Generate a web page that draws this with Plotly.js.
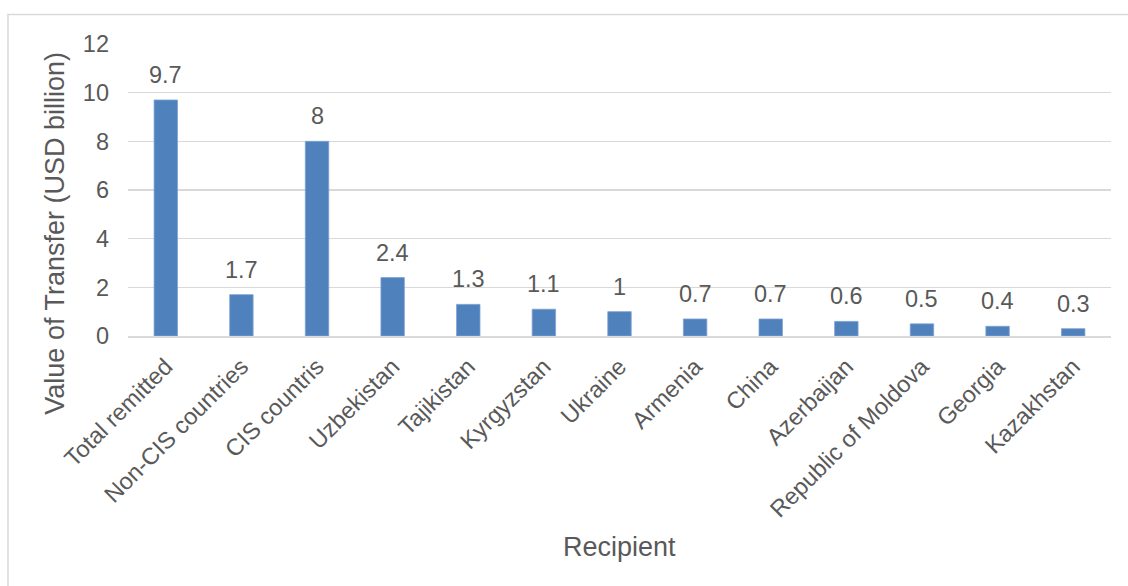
<!DOCTYPE html>
<html>
<head>
<meta charset="utf-8">
<script src="https://cdn.plot.ly/plotly-3.0.1.min.js"></script>
<style>
  html, body { margin: 0; padding: 0; background: #ffffff; }
  #chart { width: 1128px; height: 586px; }
</style>
</head>
<body>
<div id="chart"></div>
<script>
// Remittance transfers by recipient, USD billion
const recipients = [
  "Total remitted", "Non-CIS countries", "CIS countris", "Uzbekistan",
  "Tajikistan", "Kyrgyzstan", "Ukraine", "Armenia", "China",
  "Azerbaijan", "Republic of Moldova", "Georgia", "Kazakhstan"
];
const transferValues = [9.7, 1.7, 8, 2.4, 1.3, 1.1, 1, 0.7, 0.7, 0.6, 0.5, 0.4, 0.3];
const yTickValues = [0, 2, 4, 6, 8, 10, 12];

const textColor = "#595959";
const gridColor = "#d9d9d9";
const fontFamily = "'Liberation Sans', Arial, sans-serif";
const tickSize = 23.5;
const titleSize = 27;

const bars = {
  type: "bar",
  x: recipients,
  y: transferValues,
  marker: { color: "#4f81bd", line: { color: "#7fa2d2", width: 0.8 } },
  hoverinfo: "x+y",
  showlegend: false
};

// value labels sitting above each bar
const valueLabels = recipients.map((name, i) => ({
  x: name,
  y: transferValues[i],
  xref: "x",
  yref: "y",
  text: String(transferValues[i]),
  showarrow: false,
  yanchor: "bottom",
  yshift: 10,
  font: { family: fontFamily, size: tickSize, color: textColor }
}));

const axisTitles = [
  {
    text: "Recipient",
    xref: "paper", yref: "paper",
    x: 0.5, y: -0.721,
    xanchor: "center", yanchor: "middle",
    showarrow: false,
    font: { family: fontFamily, size: titleSize, color: textColor }
  },
  {
    text: "Value of Transfer (USD billion)",
    xref: "paper", yref: "paper",
    x: -0.0738, y: 0.352,
    xanchor: "center", yanchor: "middle",
    textangle: -90,
    showarrow: false,
    font: { family: fontFamily, size: titleSize, color: textColor }
  }
];

const layout = {
  width: 1128,
  height: 586,
  margin: { l: 128, r: 17, t: 43.5, b: 250, pad: 0 },
  paper_bgcolor: "#ffffff",
  plot_bgcolor: "#ffffff",
  bargap: 0.69,
  font: { family: fontFamily, color: textColor, size: tickSize },
  xaxis: {
    type: "category",
    tickangle: -45,
    ticks: "",
    showgrid: false,
    showline: true,
    linecolor: gridColor,
    linewidth: 1.5,
    ticklabelstandoff: 6,
    tickfont: { family: fontFamily, size: tickSize, color: textColor },
    fixedrange: true
  },
  yaxis: {
    range: [0, 12],
    tickvals: yTickValues,
    ticks: "",
    showgrid: true,
    gridcolor: gridColor,
    gridwidth: 1.5,
    zeroline: false,
    showline: false,
    ticklabelstandoff: 18,
    tickfont: { family: fontFamily, size: tickSize, color: textColor },
    fixedrange: true
  },
  annotations: valueLabels.concat(axisTitles),
  shapes: [
    {
      type: "rect",
      xref: "paper", yref: "paper",
      x0: -0.1221, x1: 1.05,
      y0: -0.95, y1: 1.1009,
      line: { color: gridColor, width: 1.5 },
      fillcolor: "rgba(0,0,0,0)",
      layer: "below"
    }
  ]
};

Plotly.newPlot("chart", [bars], layout, { displayModeBar: false, staticPlot: true });
</script>
</body>
</html>
